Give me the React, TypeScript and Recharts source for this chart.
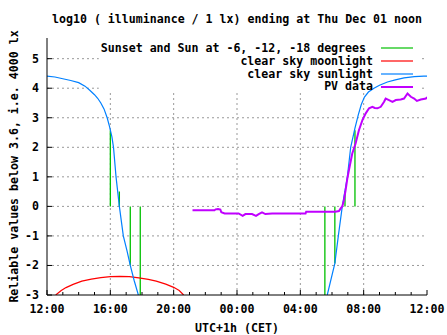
import React from "react";
import {
  ComposedChart,
  Line,
  XAxis,
  YAxis,
  CartesianGrid,
  ReferenceArea,
  Legend,
  Label,
} from "recharts";

const FONT = "'DejaVu Sans Mono', monospace";
const GREEN = "#00c000";
const RED = "#ff0000";
const BLUE = "#0080ff";
const PURPLE = "#c000ff";

// x = hours after Wed 12:00 (CET)
const X_MINOR = [0, 1, 2, 3, 4, 5, 6, 7, 8, 9, 10, 11, 12, 13, 14, 15, 16, 17, 18, 19, 20, 21, 22, 23, 24];
const X_MAJOR = [0, 4, 8, 12, 16, 20, 24];
const X_LABELS = ["12:00", "16:00", "20:00", "00:00", "04:00", "08:00", "12:00"];
const Y_TICKS = [-3, -2, -1, 0, 1, 2, 3, 4, 5];

// clear sky sunlight
const sunEveT = [0, 0.5, 1.0, 1.5, 2.0, 2.4, 2.7, 3.0, 3.2, 3.4, 3.6, 3.8, 3.95, 4.1, 4.2, 4.36, 4.57, 4.82, 5.05, 5.26, 5.5, 5.77];
const sunEveV = [4.41, 4.38, 4.32, 4.26, 4.19, 4.07, 3.93, 3.78, 3.66, 3.5, 3.3, 3.0, 2.7, 2.35, 2.0, 1.0, 0, -1, -1.5, -2, -2.5, -3];
const sunMornT = [17.7, 18.18, 18.4, 18.65, 18.97, 19.18, 19.45, 19.66, 19.85, 20.05, 20.3, 20.65, 21.0, 21.5, 22.0, 22.55, 23.2, 23.8, 24];
const sunMornV = [-3, -1.93, -1, 0, 1, 2, 2.65, 3.1, 3.45, 3.7, 3.87, 4.0, 4.1, 4.21, 4.28, 4.35, 4.39, 4.41, 4.41];

// clear sky moonlight
const moonT = [0.55, 0.9, 1.2, 1.65, 2.2, 2.8, 3.4, 4.0, 4.6, 5.2, 5.8, 6.4, 6.9, 7.5, 8.0, 8.35, 8.63];
const moonV = [-3, -2.85, -2.75, -2.64, -2.53, -2.46, -2.41, -2.38, -2.37, -2.38, -2.42, -2.47, -2.53, -2.63, -2.74, -2.85, -3];

// sunset / sunrise and sun at -6, -12, -18 degrees
const markT = [4.0, 4.57, 5.26, 5.89, 17.55, 18.18, 18.82, 19.45];
const markV = [2.57, 0.5, -2, -3, -3, -1.93, 0.5, 2.58];

// PV data
const pvT = [9.19, 10.0, 10.58, 10.65, 10.8, 10.95, 11.01, 11.22, 11.6, 12.1, 12.36, 12.53, 12.95, 13.2, 13.37, 13.58, 13.79, 14.22, 15.0, 15.8, 16.33, 16.37, 17.17, 17.8, 18.2, 18.44, 18.55, 18.65, 18.75, 18.86, 18.97, 19.07, 19.28, 19.49, 19.7, 19.92, 20.13, 20.34, 20.55, 20.7, 20.87, 21.08, 21.29, 21.39, 21.6, 21.82, 22.03, 22.34, 22.55, 22.77, 22.98, 23.19, 23.36, 23.61, 23.93, 24];
const pvV = [-0.13, -0.13, -0.13, -0.1, -0.09, -0.11, -0.2, -0.24, -0.24, -0.24, -0.32, -0.26, -0.26, -0.32, -0.26, -0.2, -0.26, -0.24, -0.24, -0.24, -0.24, -0.18, -0.18, -0.18, -0.18, -0.16, -0.07, 0, 0.21, 0.55, 0.95, 1.23, 1.79, 2.13, 2.58, 2.92, 3.15, 3.32, 3.37, 3.33, 3.32, 3.37, 3.54, 3.65, 3.6, 3.54, 3.6, 3.62, 3.65, 3.82, 3.71, 3.65, 3.57, 3.62, 3.65, 3.7];

const KEY = [
  { name: "Sunset and Sun at -6, -12, -18 degrees ", color: GREEN },
  { name: "clear sky moonlight", color: RED },
  { name: "clear sky sunlight", color: BLUE },
  { name: "PV data", color: PURPLE },
];

const pairs = (ts: number[], vs: number[]) => ts.map((t, i) => ({ t, v: vs[i] }));

const sunData = [...pairs(sunEveT, sunEveV), { t: 11, v: null }, ...pairs(sunMornT, sunMornV)];
const moonData = pairs(moonT, moonV);
const markData = markT.flatMap((t, i) => [
  { t, v: 0 },
  { t, v: markV[i] },
  { t, v: null },
]);
const pvData = pairs(pvT, pvV);

const textStyle = { fontFamily: FONT, fontWeight: "bold" as const, fontSize: 11.6, fill: "#000" };

function BottomTick(props: any) {
  const { x, y, payload } = props;
  const i = X_MAJOR.indexOf(payload.value);
  return (
    <g>
      <line x1={x} x2={x} y1={y} y2={y - (i >= 0 ? 5 : 3)} stroke="#000" />
      {i >= 0 && (
        <text x={x} y={y + 14} textAnchor="middle" dominantBaseline="central" {...textStyle}>
          {X_LABELS[i]}
        </text>
      )}
    </g>
  );
}

function TopTick(props: any) {
  const { x, y, payload } = props;
  const major = X_MAJOR.includes(payload.value);
  return <line x1={x} x2={x} y1={y} y2={y + (major ? 5 : 3)} stroke="#000" />;
}

function LeftTick(props: any) {
  const { x, y, payload } = props;
  return (
    <g>
      <line x1={x} x2={x + 5} y1={y} y2={y} stroke="#000" />
      <text x={x - 8} y={y} textAnchor="end" dominantBaseline="central" {...textStyle}>
        {payload.value}
      </text>
    </g>
  );
}

function RightTick(props: any) {
  const { x, y } = props;
  return <line x1={x} x2={x - 5} y1={y} y2={y} stroke="#000" />;
}

function KeyBox() {
  return (
    <div style={{ fontFamily: FONT, fontWeight: "bold", fontSize: 11.6, paddingTop: 4 }}>
      {KEY.map((k) => (
        <div key={k.name} style={{ display: "flex", alignItems: "center", height: 12.8 }}>
          <span style={{ width: 274, textAlign: "right", whiteSpace: "pre", lineHeight: "12.8px" }}>{k.name}</span>
          <svg width={40} height={4} style={{ display: "block" }}>
            <line x1={8} x2={40} y1={2} y2={2} stroke={k.color} strokeWidth={k.color === PURPLE ? 2 : 1.2} />
          </svg>
        </div>
      ))}
    </div>
  );
}

export default function App() {
  return (
    <div style={{ position: "absolute", left: 0, top: 0, width: 447, height: 335, background: "#fff" }}>
      <div
        style={{
          position: "absolute",
          left: 47,
          top: 12,
          width: 380,
          height: 14,
          lineHeight: "14px",
          textAlign: "center",
          fontFamily: FONT,
          fontWeight: "bold",
          fontSize: 11.6,
          whiteSpace: "pre",
          zIndex: 2,
        }}
      >
        log10 ( illuminance / 1 lx) ending at Thu Dec 01 noon
      </div>
      <ComposedChart width={447} height={335} margin={{ top: 38, right: 20, bottom: 0, left: 0 }}>
        <CartesianGrid
          xAxisId="main"
          yAxisId="main"
          stroke="#999999"
          strokeDasharray="2 3"
          verticalValues={[4, 8, 12, 16, 20]}
          horizontalValues={[-2, -1, 0, 1, 2, 3, 4, 5]}
        />
        <XAxis
          xAxisId="main"
          dataKey="t"
          type="number"
          domain={[0, 24]}
          ticks={X_MINOR}
          interval={0}
          allowDataOverflow
          height={40}
          tickSize={0}
          tickMargin={0}
          tickLine={false}
          tick={BottomTick}
          axisLine={{ stroke: "#000" }}
        >
          <Label
            content={(p: any) => {
              const vb = p.viewBox;
              return (
                <text x={vb.x + vb.width / 2} y={vb.y + 33} textAnchor="middle" dominantBaseline="central" {...textStyle}>
                  UTC+1h (CET)
                </text>
              );
            }}
          />
        </XAxis>
        <XAxis
          xAxisId="top"
          orientation="top"
          dataKey="t"
          type="number"
          domain={[0, 24]}
          ticks={X_MINOR}
          interval={0}
          allowDataOverflow
          height={0}
          tickSize={0}
          tickMargin={0}
          tickLine={false}
          tick={TopTick}
          axisLine={{ stroke: "#000" }}
        />
        <YAxis
          yAxisId="main"
          type="number"
          domain={[-3, 5.7]}
          ticks={Y_TICKS}
          interval={0}
          allowDataOverflow
          width={47}
          tickSize={0}
          tickMargin={0}
          tickLine={false}
          tick={LeftTick}
          axisLine={{ stroke: "#000" }}
        >
          <Label
            content={(p: any) => {
              const vb = p.viewBox;
              const cx = vb.x + 14;
              const cy = vb.y + vb.height / 2;
              return (
                <text
                  x={cx}
                  y={cy}
                  transform={`rotate(-90 ${cx} ${cy})`}
                  textAnchor="middle"
                  dominantBaseline="central"
                  {...textStyle}
                >
                  Reliable values below 3.6, i.e. 4000 lx
                </text>
              );
            }}
          />
        </YAxis>
        <YAxis
          yAxisId="right"
          orientation="right"
          type="number"
          domain={[-3, 5.7]}
          ticks={Y_TICKS}
          interval={0}
          allowDataOverflow
          width={0}
          tickSize={0}
          tickMargin={0}
          tickLine={false}
          tick={RightTick}
          axisLine={{ stroke: "#000" }}
        />
        <ReferenceArea
          xAxisId="main"
          yAxisId="main"
          x1={3.27}
          x2={23.61}
          y1={3.885}
          y2={5.7}
          fill="#fff"
          fillOpacity={1}
          stroke="none"
        />
        <Line xAxisId="main" yAxisId="main" data={markData} dataKey="v" name={KEY[0].name} type="linear" stroke={GREEN} strokeWidth={1.3} dot={false} activeDot={false} connectNulls={false} isAnimationActive={false} />
        <Line xAxisId="main" yAxisId="main" data={moonData} dataKey="v" name={KEY[1].name} type="linear" stroke={RED} strokeWidth={1.2} dot={false} activeDot={false} isAnimationActive={false} />
        <Line xAxisId="main" yAxisId="main" data={sunData} dataKey="v" name={KEY[2].name} type="linear" stroke={BLUE} strokeWidth={1.2} dot={false} activeDot={false} connectNulls={false} isAnimationActive={false} />
        <Line xAxisId="main" yAxisId="main" data={pvData} dataKey="v" name={KEY[3].name} type="linear" stroke={PURPLE} strokeWidth={2} dot={false} activeDot={false} isAnimationActive={false} />
        <Legend
          layout="vertical"
          align="center"
          verticalAlign="middle"
          content={KeyBox}
          wrapperStyle={{ left: 99, top: 38, width: 321 }}
        />
      </ComposedChart>
    </div>
  );
}
